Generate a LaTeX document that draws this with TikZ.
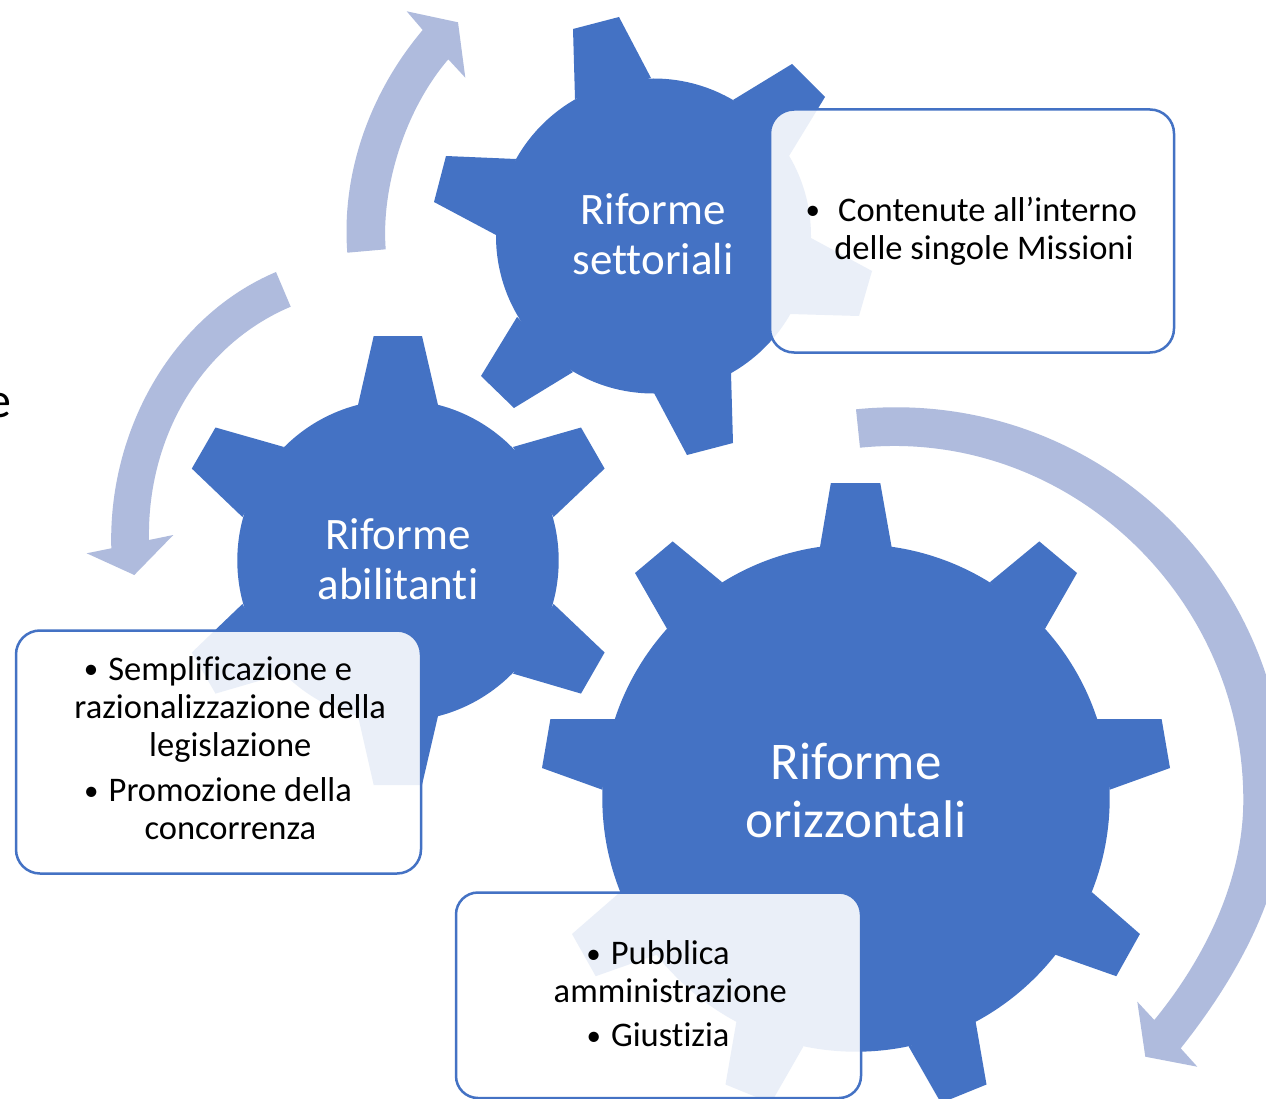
\documentclass[tikz,border=0pt]{standalone}
\usepackage{fontspec}
\setmainfont[Ligatures=NoCommon]{Carlito}
\definecolor{gearblue}{HTML}{4472C4}
\definecolor{arrowtint}{HTML}{AFBBDD}
\tikzset{
  geartooth/.style={fill=gearblue,draw=none},
  gearbody/.style={circle,fill=gearblue,draw=none,inner sep=0pt},
  cyclearrow/.style={fill=arrowtint,draw=none},
  notebox/.style={rectangle,rounded corners=#1,draw=gearblue,line width=2.5pt,fill=white,fill opacity=0.89,inner sep=0pt,outer sep=0pt,anchor=north west},
  gearlabel/.style={text=white,align=center,inner sep=0pt},
  notelabel/.style={text=black,align=center,inner sep=0pt,font=\fontsize{34.5}{38}\selectfont},
}
\newcommand{\blt}[1]{\llap{\raisebox{1.2pt}{\fontsize{29}{29}\selectfont •}\hspace{#1}}}
\begin{document}
\begin{tikzpicture}[x=1pt,y=-1pt]
\clip (0,0) rectangle (1266,1099);
\fill[white] (0,0) rectangle (1266,1099);

% cut-off text at the left edge
\node[anchor=base east,inner sep=0pt,font=\fontsize{50}{55}\selectfont,text=black] (cut) at (12,417) {e};

% arrows
\fill[cyclearrow] (347.3,252.7) .. controls (341,170) and (372,90) .. (422.7,30)
  -- (406.7,11.3) -- (458,22.3) -- (465.3,77.7) -- (448.3,59.3)
  .. controls (404,111) and (381,189) .. (385.7,249.3) -- cycle;
\fill[cyclearrow] (276,272) .. controls (170,317) and (108,433) .. (111.3,548.3)
  -- (86.7,553.3) -- (134.3,575) -- (173.3,535) -- (149,540)
  .. controls (147,440) and (198.7,345.7) .. (290.7,306.7) -- cycle;
\fill[cyclearrow] (856,409.3) .. controls (1088,386) and (1286,567) .. (1286,800)
  .. controls (1286,890) and (1236.7,978) .. (1180.7,1048.3)
  -- (1197.3,1066.7) -- (1145.3,1056.7) -- (1137.3,1001.7) -- (1154.3,1020)
  .. controls (1205,958) and (1243.3,880) .. (1243.3,800)
  .. controls (1243.3,594) and (1065,427) .. (860,447.7) -- cycle;

% gear: settoriali
\node[gearbody,minimum size=315pt] (gearS) at (653.5,236) {};
\fill[geartooth] (575,99) -- (573,29) -- (619,17) -- (651,78) -- cycle;
\fill[geartooth] (733,100) -- (792,64) -- (825,97) -- (789,156) -- cycle;
\fill[geartooth] (811,238) -- (872,271) -- (859,316) -- (790,314) -- cycle;
\fill[geartooth] (731,373) -- (733,443) -- (687,455) -- (654,393) -- cycle;
\fill[geartooth] (573,372) -- (514,408) -- (481,376) -- (517,317) -- cycle;
\fill[geartooth] (496,235) -- (434,202) -- (446,156) -- (516,159) -- cycle;

% gear: abilitanti
\node[gearbody,minimum size=321.4pt] (gearA) at (398,560.5) {};
\fill[geartooth] (358,405) -- (373.7,336) -- (422,336) -- (438,405) -- cycle;
\fill[geartooth] (513,447) -- (581,427.5) -- (604.6,468.6) -- (553.6,517) -- cycle;
\fill[geartooth] (553.6,604) -- (604.6,652.5) -- (581,693.6) -- (513,673.6) -- cycle;
\fill[geartooth] (438,716) -- (422,785) -- (373.7,785) -- (358,716) -- cycle;
\fill[geartooth] (284,673.6) -- (215.5,693.6) -- (191.8,652.5) -- (242.4,604) -- cycle;
\fill[geartooth] (242.4,517) -- (191.8,468.6) -- (215.5,427.5) -- (284,447) -- cycle;

% gear: orizzontali
\node[gearbody,minimum size=507.4pt] (gearO) at (856,798) {};
\fill[geartooth] (820,547) -- (830.8,483.2) -- (880.3,483.2) -- (891.6,547) -- cycle;
\fill[geartooth] (989.8,582.3) -- (1039.3,541.4) -- (1077,573) -- (1045,628.8) -- cycle;
\fill[geartooth] (1096.4,719) -- (1161.6,719) -- (1170,768) -- (1109.7,789.7) -- cycle;
\fill[geartooth] (1091.7,892) -- (1139.9,934) -- (1116.3,976.2) -- (1055,954.6) -- cycle;
\fill[geartooth] (975.6,1021.6) -- (986.5,1084.5) -- (941,1103) -- (908.6,1046.4) -- cycle;
\fill[geartooth] (803.4,1046.4) -- (771,1103) -- (725.5,1084.5) -- (736.4,1021.6) -- cycle;
\fill[geartooth] (657,954.6) -- (595.7,976.2) -- (572,934) -- (620.3,892) -- cycle;
\fill[geartooth] (602.3,789.7) -- (542,768) -- (550.4,719) -- (615.6,719) -- cycle;
\fill[geartooth] (667,628.8) -- (635,573) -- (672.7,541.4) -- (722.2,582.3) -- cycle;

% gear labels
\node[gearlabel,font=\fontsize{45}{49.5}\selectfont] (labelS) at (653,234) {Riforme\\settoriali};
\node[gearlabel,font=\fontsize{45}{49.5}\selectfont] (labelA) at (398,559) {Riforme\\abilitanti};
\node[gearlabel,font=\fontsize{53}{58}\selectfont] (labelO) at (856,790) {Riforme\\orizzontali};

% boxes
\node[notebox=24pt,minimum width=404pt,minimum height=243pt] (boxS) at (770,109.5) {};
\node[notebox=24pt,minimum width=405pt,minimum height=243pt] (boxA) at (16,630.5) {};
\node[notebox=22pt,minimum width=405pt,minimum height=205.5pt] (boxO) at (456,892.5) {};

% box texts
\node[notelabel] (textS) at (987.5,231) {\blt{18pt}Contenute all’interno\\\hspace*{-7pt}delle singole Missioni};
\node[notelabel] (textA) at (230.3,748) {\blt{10pt}Semplificazione e\\razionalizzazione della\\legislazione\\[7.5pt]\blt{10pt}Promozione della\\concorrenza};
\node[notelabel] (textO) at (670.3,994) {\blt{10pt}Pubblica\\amministrazione\\[6pt]\blt{10pt}Giustizia};
\end{tikzpicture}
\end{document}
